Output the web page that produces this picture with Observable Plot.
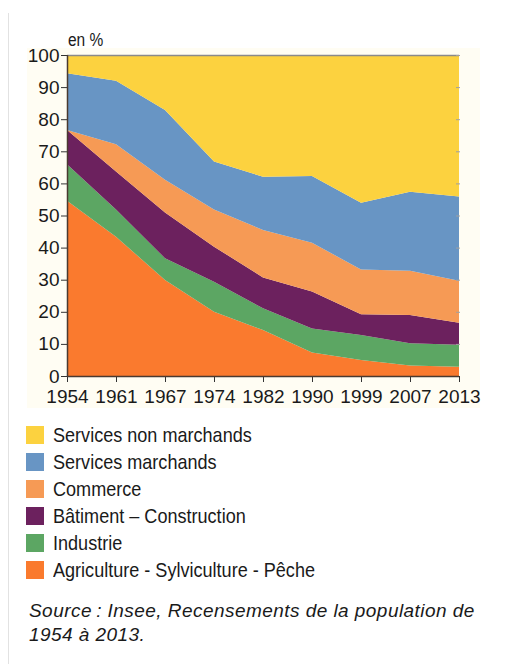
<!DOCTYPE html>
<html>
<head>
<meta charset="utf-8">
<script src="https://cdn.jsdelivr.net/npm/d3@7"></script>
<script src="https://cdn.jsdelivr.net/npm/@observablehq/plot@0.6"></script>
<style>
  html, body { margin: 0; padding: 0; background: #ffffff; }
  #wrap { position: relative; width: 505px; height: 664px; overflow: hidden; }
  #edge { position: absolute; left: 8px; top: 13px; width: 1px; height: 651px; background: #e2e2e2; }
  #panel { position: absolute; left: 27px; top: 48px; width: 453px; height: 360px; background: #fffdf3; }
  #unit { position: absolute; left: 68px; top: 30px; font: 18px "Liberation Sans", Arial, sans-serif; color: #1a1a1a; transform: scaleX(0.86); transform-origin: left center; white-space: nowrap; }
  #chart { position: absolute; left: 0; top: 0; }
  #legend { position: absolute; left: 26px; top: 421.5px; font: 21px "Liberation Sans", Arial, sans-serif; color: #1a1a1a; }
  .row { display: flex; align-items: center; height: 27px; }
  .sw { width: 18px; height: 18px; margin-right: 9px; flex: none; }
  .lab { display: inline-block; transform: scaleX(0.86); transform-origin: left center; white-space: nowrap; }
  #source { position: absolute; left: 29px; top: 599px; width: 462px; font: italic 19px "Liberation Sans", Arial, sans-serif; letter-spacing: 0.45px; line-height: 24px; color: #1a1a1a; }
</style>
</head>
<body>
<div id="wrap">
  <div id="edge"></div>
  <div id="panel"></div>
  <div id="unit">en %</div>
  <div id="chart"></div>
  <div id="legend"></div>
  <div id="source">Source&#8239;: Insee, Recensements de la population de 1954 à 2013.</div>
</div>
<script>
const years = ["1954", "1961", "1967", "1974", "1982", "1990", "1999", "2007", "2013"];
const categories = [
  "Agriculture - Sylviculture - Pêche",
  "Industrie",
  "Bâtiment – Construction",
  "Commerce",
  "Services marchands",
  "Services non marchands"
];
const agriculture = [54.6, 43.4, 29.9, 20.0, 14.3, 7.3, 5.0, 3.3, 2.9];
const industrie   = [11.4, 8.5, 6.8, 9.4, 6.8, 7.5, 7.8, 6.9, 6.8];
const batiment    = [10.6, 11.8, 14.2, 10.9, 9.6, 11.5, 6.4, 8.8, 6.9];
const commerce    = [0.0, 8.5, 10.2, 11.6, 14.8, 15.2, 14.0, 13.8, 13.1];
const servMarch   = [17.7, 19.8, 21.8, 14.9, 16.6, 20.8, 20.8, 24.6, 26.2];
const servNonMarch= [5.7, 8.0, 17.1, 33.2, 37.9, 37.7, 46.0, 42.6, 44.1];
const yTicks = [0, 10, 20, 30, 40, 50, 60, 70, 80, 90, 100];
const colors = ["#fa7a2e", "#5ca663", "#6c215e", "#f69a55", "#6895c4", "#fcd23f"];

const seriesValues = [agriculture, industrie, batiment, commerce, servMarch, servNonMarch];
const data = [];
categories.forEach((c, i) => {
  years.forEach((y, j) => data.push({ year: y, cat: c, value: seriesValues[i][j] }));
});

const font = '"Liberation Sans", Arial, sans-serif';

const plot = Plot.plot({
  width: 505,
  height: 410,
  marginLeft: 67,
  marginRight: 46,
  marginTop: 55,
  marginBottom: 34,
  style: { background: "transparent", fontFamily: font, fontSize: "19px", color: "#1a1a1a", overflow: "visible" },
  x: { type: "point", domain: years, padding: 0 },
  y: { domain: [0, 100] },
  color: { domain: categories, range: colors },
  marks: [
    Plot.areaY(data, Plot.stackY({ x: "year", y: "value", z: "cat", fill: "cat", curve: "linear" })),
    Plot.ruleY([yTicks[yTicks.length - 1]], { stroke: "#8a8a8a", strokeWidth: 1.5 }),
    Plot.axisY({ anchor: "right", ticks: yTicks, tickSize: -4, tickFormat: () => "", stroke: "#a0a0a0", label: null }),
    Plot.axisY({ anchor: "left", ticks: yTicks, tickSize: 6, tickPadding: 2, label: null, fontSize: 19, stroke: "#333" }),
    Plot.axisX({ anchor: "bottom", tickSize: 6, tickPadding: 7, label: null, fontSize: 19, stroke: "#333" }),
    Plot.ruleX([years[0]], { stroke: "#4a3a30", strokeWidth: 1.5 }),
    Plot.ruleY([yTicks[0]], { stroke: "#4a3a30", strokeWidth: 1.5 })
  ]
});
document.getElementById("chart").appendChild(plot);

const legend = document.getElementById("legend");
[...categories].reverse().forEach((c, k) => {
  const i = categories.length - 1 - k;
  const row = document.createElement("div");
  row.className = "row";
  const sw = document.createElement("div");
  sw.className = "sw";
  sw.style.background = colors[i];
  const t = document.createElement("span");
  t.className = "lab";
  t.textContent = c;
  row.appendChild(sw);
  row.appendChild(t);
  legend.appendChild(row);
});
</script>
</body>
</html>
